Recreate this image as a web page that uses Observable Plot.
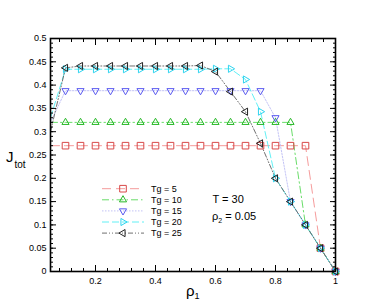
<!DOCTYPE html>
<html><head><meta charset="utf-8">
<script src="https://cdn.jsdelivr.net/npm/d3@7"></script>
<script src="https://cdn.jsdelivr.net/npm/@observablehq/plot@0.6"></script>
<style>
body{margin:0;background:#fff;}
#wrap{position:relative;width:382px;height:306px;font-family:"Liberation Sans",Arial,sans-serif;}
#wrap svg{position:absolute;left:0;top:0;}
</style></head><body><div id="wrap"></div>
<script>
// ---- data ----
const rho1 = [0.05,0.1,0.15,0.2,0.25,0.3,0.35,0.4,0.45,0.5,0.55,0.6,0.65,0.7,0.75,0.8,0.85,0.9,0.95,1.0];
const tg5  = [0.27,0.27,0.27,0.27,0.27,0.27,0.27,0.27,0.27,0.27,0.27,0.27,0.27,0.27,0.27,0.27,0.27,0.27,0.05,0];
const tg10 = [0.32,0.32,0.32,0.32,0.32,0.32,0.32,0.32,0.32,0.32,0.32,0.32,0.32,0.32,0.32,0.32,0.32,0.10,0.05,0];
const tg15 = [0.32,0.388,0.388,0.388,0.388,0.388,0.388,0.388,0.388,0.388,0.388,0.388,0.388,0.388,0.388,0.33,0.15,0.10,0.05,0];
const tg20 = [0.33,0.434,0.434,0.434,0.434,0.434,0.434,0.434,0.434,0.434,0.434,0.435,0.435,0.412,0.343,0.20,0.15,0.10,0.05,0];
const tg25 = [0.30,0.437,0.441,0.441,0.441,0.441,0.441,0.441,0.441,0.441,0.442,0.429,0.386,0.343,0.275,0.20,0.15,0.10,0.05,0];
const seriesLabels = ["Tg = 5","Tg = 10","Tg = 15","Tg = 20","Tg = 25"];
const xTickValues = [0.2,0.4,0.6,0.8,1];
const xMinorValues = [0.08,0.12,0.16,0.24,0.28,0.32,0.36,0.44,0.48,0.52,0.56,0.64,0.68,0.72,0.76,0.84,0.88,0.92,0.96];
const yTickValues = [0,0.05,0.1,0.15,0.2,0.25,0.3,0.35,0.4,0.45,0.5];
const yMinorValues = d3.range(0,0.501,0.01).map(v=>+v.toFixed(2));

// ---- symbols ----
function tri(angle){return {draw(ctx,size){const R=Math.sqrt(size/Math.PI)*1.25;for(let i=0;i<3;i++){const a=angle+i*2*Math.PI/3;const px=R*Math.cos(a),py=R*Math.sin(a);if(i)ctx.lineTo(px,py);else ctx.moveTo(px,py);}ctx.closePath();}};}
const sq={draw(ctx,size){const s=Math.sqrt(size/Math.PI);ctx.rect(-s,-s,2*s,2*s);}};
const styles=[
  {vals:tg5, line:"#f49090", mark:"#d84848", dash:"9,5", sym:sq},
  {vals:tg10,line:"#58d858", mark:"#28b828", dash:"7,3,1.5,3", sym:tri(-Math.PI/2)},
  {vals:tg15,line:"#bcbcf4", mark:"#5a5af0", dash:"1.5,1.5", sym:tri(Math.PI/2)},
  {vals:tg20,line:"#50eef4", mark:"#30d4f0", dash:"7,3", sym:tri(0)},
  {vals:tg25,line:"#606060", mark:"#222222", dash:"5,2,1,2,1,2", sym:tri(Math.PI)}
];
const R=3.3;
const marks=[];
styles.forEach((s,i)=>{
  const rows=rho1.map((x,j)=>({x,y:s.vals[j]}));
  marks.push(Plot.line(rows,{x:"x",y:"y",stroke:s.line,strokeWidth:0.9,strokeDasharray:s.dash}));
});
styles.forEach((s,i)=>{
  const rows=rho1.map((x,j)=>({x,y:s.vals[j]})).filter(d=>d.x>0.06);
  marks.push(Plot.dot(rows,{x:"x",y:"y",symbol:s.sym,r:R,stroke:s.mark,fill:"none",strokeWidth:1}));
});
const fmt=d=>String(+d.toFixed(2));
marks.push(
  Plot.axisX(xTickValues,{anchor:"bottom",tickSize:-6,text:null,label:null}),
  Plot.axisX(xMinorValues,{anchor:"bottom",tickSize:-3,text:null,label:null}),
  Plot.axisX(xTickValues,{anchor:"top",tickSize:-6,text:null,label:null}),
  Plot.axisX(xMinorValues,{anchor:"top",tickSize:-3,text:null,label:null}),
  Plot.axisX(xTickValues,{anchor:"bottom",tickSize:0,tickPadding:6,tickFormat:fmt,fontSize:9,label:null}),
  Plot.axisY(yTickValues,{anchor:"left",tickSize:-6,text:null,label:null}),
  Plot.axisY(yMinorValues,{anchor:"left",tickSize:-3,text:null,label:null}),
  Plot.axisY(yTickValues,{anchor:"right",tickSize:-6,text:null,label:null}),
  Plot.axisY(yMinorValues,{anchor:"right",tickSize:-3,text:null,label:null}),
  Plot.axisY(yTickValues,{anchor:"left",tickSize:0,tickPadding:4,tickFormat:fmt,fontSize:9,label:null}),
  Plot.frame({stroke:"#000",strokeWidth:1.6})
);
const chart=Plot.plot({
  width:382,height:306,marginLeft:50,marginRight:47,marginTop:38,marginBottom:35,
  style:{fontFamily:"Liberation Sans, Arial, sans-serif",fontSize:"9px",color:"#000",background:"transparent"},
  x:{domain:[0.05,1],label:null},y:{domain:[0,0.5],label:null},
  marks
});
const wrap=document.getElementById("wrap");
wrap.appendChild(chart);

// ---- overlay: legend, annotations, axis titles ----
const ov=d3.select(wrap).append("svg").attr("width",382).attr("height",306)
  .style("font-family","Liberation Sans, Arial, sans-serif");
const lx0=102,lx1=144,lxm=123,ly0=188.7,ldy=11.1;
styles.forEach((s,i)=>{
  const y=ly0+i*ldy;
  ov.append("line").attr("x1",lx0).attr("x2",lx1).attr("y1",y).attr("y2",y)
    .attr("stroke",s.line).attr("stroke-dasharray",s.dash).attr("stroke-width",0.9);
  ov.append("path").attr("transform",`translate(${lxm},${y})`)
    .attr("d",d3.symbol().type(s.sym).size(Math.PI*R*R)()).attr("fill","none").attr("stroke",s.mark);
  ov.append("text").attr("x",151).attr("y",y).attr("dy","0.35em").attr("font-size",9).text(seriesLabels[i]);
});
ov.append("text").attr("x",212.5).attr("y",199).attr("dy","0.35em").attr("font-size",11).text("T = 30");
const t2=ov.append("text").attr("x",212).attr("y",216).attr("dy","0.35em").attr("font-size",11);
t2.append("tspan").text("ρ");
t2.append("tspan").attr("font-size",7).attr("dy","3").text("2");
t2.append("tspan").attr("dy","-3").text(" = 0.05");
const yl=ov.append("text").attr("x",6).attr("y",162).attr("font-size",15).text("J");
yl.append("tspan").attr("font-size",10).attr("dx","1").attr("dy","6").text("tot");
const xl=ov.append("text").attr("x",186).attr("y",296).attr("font-size",15).text("ρ");
xl.append("tspan").attr("font-size",9).attr("dy","3").text("1");
</script></body></html>
